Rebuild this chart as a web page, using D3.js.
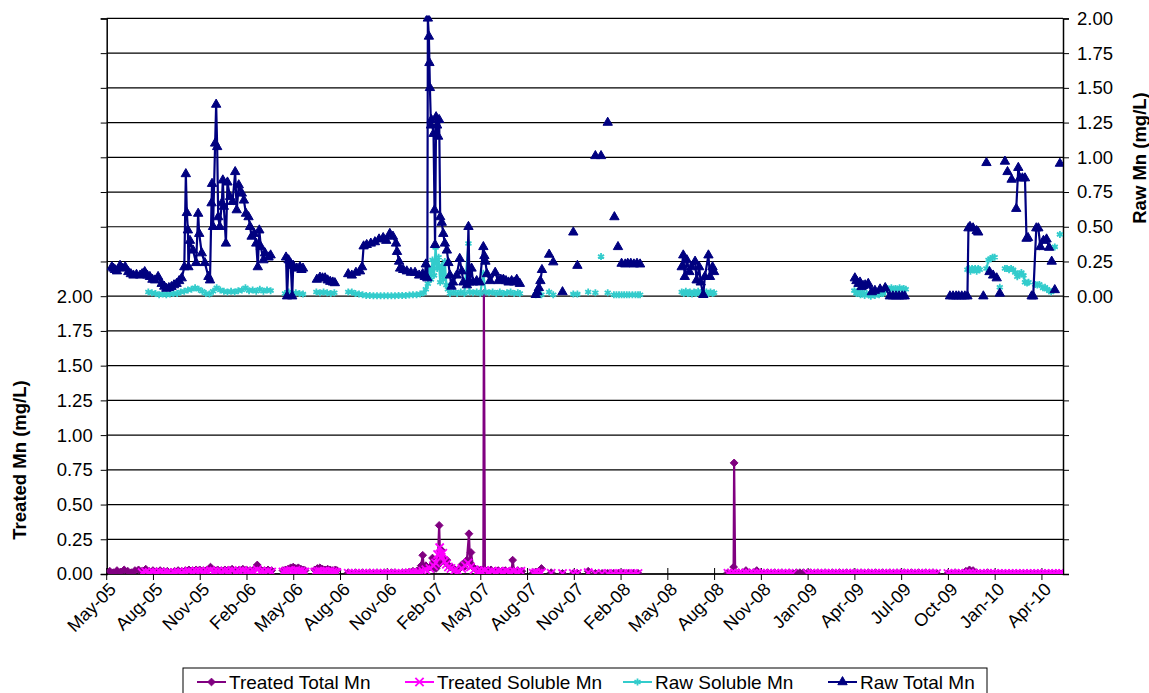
<!DOCTYPE html>
<html lang="en">
<head>
<meta charset="utf-8">
<title>Treated and Raw Mn</title>
<style>
  body { margin: 0; background: #fff; }
  text { font-family: Arial, "Liberation Sans", sans-serif; fill: #000; }
</style>
</head>
<body>
<div id="chart"></div>
<script src="https://cdn.jsdelivr.net/npm/d3@7/dist/d3.min.js"></script>
<script>

// ---- data (mg/L), null = gap in the record ----
var tickLabels = ["May-05", "Aug-05", "Nov-05", "Feb-06", "May-06", "Aug-06", "Nov-06", "Feb-07", "May-07", "Aug-07",
    "Nov-07", "Feb-08", "May-08", "Aug-08", "Nov-08", "Jan-09", "Apr-09", "Jul-09", "Oct-09", "Jan-10", "Apr-10"];
var firstTick = "2005-05-07", tickStepDays = 91, lastDay = "2010-06-11";

var treatedTotal = [
    ["2005-05-13",.02],["2005-05-20",.01],["2005-05-27",.025],["2005-06-03",.015],["2005-06-10",.03],["2005-06-17",.02],
    ["2005-06-24",.01],["2005-07-01",.025],["2005-07-08",.03],["2005-07-15",.02],["2005-07-22",.035],["2005-07-29",.02],
    ["2005-08-05",.025],["2005-08-12",.02],["2005-08-19",.025],["2005-08-26",.02],["2005-09-02",.02],["2005-09-09",.015],
    ["2005-09-16",.02],["2005-09-23",.025],["2005-09-30",.02],["2005-10-07",.025],["2005-10-14",.03],["2005-10-21",.025],
    ["2005-10-28",.03],["2005-11-04",.03],["2005-11-11",.025],["2005-11-18",.03],["2005-11-25",.05],["2005-12-02",.03],
    ["2005-12-09",.03],["2005-12-16",.025],["2005-12-23",.03],["2005-12-30",.03],["2006-01-06",.035],["2006-01-13",.025],
    ["2006-01-20",.03],["2006-01-27",.035],["2006-02-03",.03],["2006-02-10",.025],["2006-02-17",.03],["2006-02-24",.065],
    ["2006-03-03",.03],["2006-03-10",.025],["2006-03-17",.03],["2006-03-24",.025], null,
    ["2006-04-15",.025],["2006-04-20",.03],["2006-04-25",.035],["2006-04-30",.045],["2006-05-05",.05],["2006-05-10",.04],
    ["2006-05-15",.045],["2006-05-20",.035],["2006-05-25",.03],["2006-05-28",.025], null,
    ["2006-06-16",.03],["2006-06-21",.04],["2006-06-26",.045],["2006-07-01",.035],["2006-07-06",.03],["2006-07-11",.035],
    ["2006-07-16",.03],["2006-07-21",.025],["2006-07-26",.03],["2006-07-29",.025], null,
    ["2006-08-20",.01],["2006-08-27",.005],["2006-09-03",.01],["2006-09-10",.005],["2006-09-17",.01],["2006-09-24",.005],
    ["2006-10-01",.01],["2006-10-08",.005],["2006-10-15",.01],["2006-10-22",.005],["2006-10-29",.01],["2006-11-05",.005],
    ["2006-11-12",.01],["2006-11-19",.01],["2006-11-26",.005],["2006-12-03",.01],["2006-12-10",.01],["2006-12-17",.015],
    ["2006-12-24",.02],["2006-12-31",.02],["2007-01-05",.03],["2007-01-09",.06],["2007-01-12",.135],["2007-01-14",.05],
    ["2007-01-18",.06],["2007-01-22",.04],["2007-01-26",.05],["2007-01-31",.115],["2007-02-03",.05],["2007-02-07",.04],
    ["2007-02-10",.06],["2007-02-13",.35],["2007-02-15",.08],["2007-02-18",.17],["2007-02-21",.12],["2007-02-24",.09],
    ["2007-02-28",.10],["2007-03-04",.06],["2007-03-08",.05],["2007-03-12",.04],["2007-03-16",.03],["2007-03-20",.025],
    ["2007-03-25",.04],["2007-03-30",.07],["2007-04-03",.05],["2007-04-08",.10],["2007-04-12",.29],["2007-04-14",.08],
    ["2007-04-16",.155],["2007-04-20",.05],["2007-04-25",.035],["2007-04-30",.03],["2007-05-05",.03],["2007-05-10",.03],
    ["2007-05-11",2.02],["2007-05-13",.03],["2007-05-18",.025],["2007-05-25",.03],["2007-06-01",.02],["2007-06-08",.025],
    ["2007-06-15",.02],["2007-06-22",.025],["2007-06-29",.02],["2007-07-04",.02],["2007-07-06",.10],["2007-07-09",.02],
    ["2007-07-16",.025],["2007-07-24",.02], null,
    ["2007-08-15",.01],["2007-08-20",.015],["2007-08-25",.01],["2007-08-31",.04], null, ["2007-09-19",.01], null,
    ["2007-10-11",.005], null, ["2007-11-01",.005], null, ["2007-11-09",.005], null, ["2007-11-30",.02], null,
    ["2007-12-14",.005], null, ["2007-12-27",.005], null,
    ["2008-01-07",.005],["2008-01-18",.005],["2008-01-28",.005],["2008-02-06",.005],["2008-02-16",.005],["2008-02-26",.005],
    ["2008-03-06",.005], null,
    ["2008-08-28",.01],["2008-09-04",.01],["2008-09-08",.05],["2008-09-09",.80],["2008-09-11",.01],["2008-09-18",.01],
    ["2008-09-25",.01],["2008-10-02",.025],["2008-10-09",.01],["2008-10-16",.01],["2008-10-23",.025],["2008-10-30",.01],
    ["2008-11-06",.005],["2008-11-13",.01],["2008-11-20",.005],["2008-11-27",.01],["2008-12-04",.005],["2008-12-11",.01],
    ["2008-12-18",.005],["2008-12-25",.01],["2009-01-01",.005],["2009-01-08",.01],["2009-01-15",.01],["2009-01-22",.01],
    ["2009-01-29",.005],["2009-02-05",.01],["2009-02-12",.005],["2009-02-19",.01],["2009-02-26",.005],["2009-03-05",.01],
    ["2009-03-12",.005],["2009-03-19",.01],["2009-03-26",.005],["2009-04-02",.01],["2009-04-09",.005],["2009-04-16",.01],
    ["2009-04-23",.005],["2009-04-30",.01],["2009-05-07",.005],["2009-05-14",.01],["2009-05-21",.005],["2009-05-28",.01],
    ["2009-06-04",.005],["2009-06-11",.01],["2009-06-18",.005],["2009-06-25",.01],["2009-07-02",.005],["2009-07-09",.01],
    ["2009-07-16",.005],["2009-07-23",.01],["2009-07-30",.005],["2009-08-06",.01],["2009-08-13",.005],["2009-08-20",.01],
    ["2009-08-27",.005],["2009-09-03",.01],["2009-09-10",.005],["2009-09-17",.01],["2009-09-24",.005],["2009-10-01",.01],
    ["2009-10-08",.005], null,
    ["2009-10-30",.005],["2009-11-06",.005],["2009-11-13",.01],["2009-11-20",.005],["2009-11-27",.005],["2009-12-04",.02],
    ["2009-12-11",.03],["2009-12-18",.025],["2009-12-25",.01],["2010-01-01",.005],["2010-01-08",.005],["2010-01-15",.01],
    ["2010-01-22",.005],["2010-01-29",.005],["2010-02-05",.005],["2010-02-12",.005],["2010-02-19",.005],["2010-02-26",.005],
    ["2010-03-05",.005],["2010-03-12",.005],["2010-03-19",.005],["2010-03-26",.005],["2010-04-02",.005],["2010-04-09",.005],
    ["2010-04-16",.005],["2010-04-23",.005],["2010-04-30",.005],["2010-05-07",.005],["2010-05-14",.005],["2010-05-21",.005],
    ["2010-05-28",.005],["2010-06-04",.005],["2010-06-10",.005]
];

var treatedSoluble = [
    ["2005-07-15",.01],["2005-07-22",.015],["2005-07-29",.01],["2005-08-05",.015],["2005-08-12",.01],["2005-08-19",.015],
    ["2005-08-26",.01],["2005-09-02",.01],["2005-09-09",.005],["2005-09-16",.01],["2005-09-23",.015],["2005-09-30",.01],
    ["2005-10-07",.015],["2005-10-14",.02],["2005-10-21",.015],["2005-10-28",.02],["2005-11-04",.02],["2005-11-11",.015],
    ["2005-11-18",.02],["2005-11-25",.025],["2005-12-02",.02],["2005-12-09",.02],["2005-12-16",.015],["2005-12-23",.02],
    ["2005-12-30",.02],["2006-01-06",.025],["2006-01-13",.015],["2006-01-20",.02],["2006-01-27",.025],["2006-02-03",.02],
    ["2006-02-10",.015],["2006-02-17",.02],["2006-02-24",.03],["2006-03-03",.02],["2006-03-10",.015],["2006-03-17",.02],
    ["2006-03-24",.015], null,
    ["2006-04-15",.015],["2006-04-20",.02],["2006-04-25",.02],["2006-04-30",.025],["2006-05-05",.02],["2006-05-10",.025],
    ["2006-05-15",.02],["2006-05-20",.02],["2006-05-25",.015],["2006-05-28",.015], null,
    ["2006-06-16",.015],["2006-06-21",.02],["2006-06-26",.02],["2006-07-01",.015],["2006-07-06",.02],["2006-07-11",.015],
    ["2006-07-16",.02],["2006-07-21",.015],["2006-07-26",.015],["2006-07-29",.01], null,
    ["2006-08-20",.005],["2006-08-27",.003],["2006-09-03",.005],["2006-09-10",.003],["2006-09-17",.005],["2006-09-24",.003],
    ["2006-10-01",.005],["2006-10-08",.003],["2006-10-15",.005],["2006-10-22",.003],["2006-10-29",.005],["2006-11-05",.003],
    ["2006-11-12",.005],["2006-11-19",.003],["2006-11-26",.005],["2006-12-03",.005],["2006-12-10",.005],["2006-12-17",.008],
    ["2006-12-24",.01],["2006-12-31",.01],["2007-01-05",.01],["2007-01-12",.02],["2007-01-18",.03],["2007-01-26",.04],
    ["2007-02-02",.06],["2007-02-06",.08],["2007-02-10",.14],["2007-02-14",.19],["2007-02-17",.12],["2007-02-20",.15],
    ["2007-02-23",.09],["2007-02-27",.07],["2007-03-03",.05],["2007-03-08",.04],["2007-03-15",.025],["2007-03-22",.02],
    ["2007-03-29",.04],["2007-04-05",.06],["2007-04-10",.08],["2007-04-15",.05],["2007-04-22",.03],["2007-04-29",.02],
    ["2007-05-06",.02],["2007-05-13",.025],["2007-05-20",.015],["2007-05-27",.02],["2007-06-03",.015],["2007-06-10",.02],
    ["2007-06-17",.015],["2007-06-24",.02],["2007-07-01",.015],["2007-07-08",.02],["2007-07-15",.015],["2007-07-22",.02], null,
    ["2007-08-15",.005],["2007-08-20",.01],["2007-08-25",.005],["2007-08-31",.01], null, ["2007-09-19",.005], null,
    ["2007-10-11",.003], null, ["2007-11-01",.003], null, ["2007-11-09",.003], null, ["2007-11-30",.01], null,
    ["2007-12-14",.003], null, ["2007-12-27",.003], null,
    ["2008-01-07",.003],["2008-01-18",.003],["2008-01-28",.003],["2008-02-06",.003],["2008-02-16",.003],["2008-02-26",.003],
    ["2008-03-06",.003], null,
    ["2008-08-28",.005],["2008-09-04",.005],["2008-09-11",.005],["2008-09-18",.005],["2008-09-25",.005],["2008-10-02",.008],
    ["2008-10-09",.005],["2008-10-16",.005],["2008-10-23",.008],["2008-10-30",.005],["2008-11-06",.003],["2008-11-13",.005],
    ["2008-11-20",.003],["2008-11-27",.005],["2008-12-04",.003],["2008-12-11",.005],["2008-12-18",.003],["2008-12-25",.005],
    ["2009-01-01",.003], null,
    ["2009-01-29",.003],["2009-02-05",.005],["2009-02-12",.003],["2009-02-19",.005],["2009-02-26",.003],["2009-03-05",.005],
    ["2009-03-12",.003],["2009-03-19",.005],["2009-03-26",.003],["2009-04-02",.005],["2009-04-09",.003],["2009-04-16",.005],
    ["2009-04-23",.003],["2009-04-30",.005],["2009-05-07",.003],["2009-05-14",.005],["2009-05-21",.003],["2009-05-28",.005],
    ["2009-06-04",.003],["2009-06-11",.005],["2009-06-18",.003],["2009-06-25",.005],["2009-07-02",.003],["2009-07-09",.005],
    ["2009-07-16",.003],["2009-07-23",.005],["2009-07-30",.003],["2009-08-06",.005],["2009-08-13",.003],["2009-08-20",.005],
    ["2009-08-27",.003],["2009-09-03",.005],["2009-09-10",.003],["2009-09-17",.005],["2009-09-24",.003],["2009-10-01",.005],
    ["2009-10-08",.003], null,
    ["2009-10-30",.003],["2009-11-06",.003],["2009-11-13",.005],["2009-11-20",.003],["2009-11-27",.003],["2009-12-04",.005],
    ["2009-12-11",.008],["2009-12-18",.005],["2009-12-25",.003],["2010-01-01",.003],["2010-01-08",.003],["2010-01-15",.005],
    ["2010-01-22",.003],["2010-01-29",.003],["2010-02-05",.003],["2010-02-12",.003],["2010-02-19",.003],["2010-02-26",.003],
    ["2010-03-05",.003],["2010-03-12",.003],["2010-03-19",.003],["2010-03-26",.003],["2010-04-02",.003],["2010-04-09",.003],
    ["2010-04-16",.003],["2010-04-23",.003],["2010-04-30",.003],["2010-05-07",.003],["2010-05-14",.003],["2010-05-21",.003],
    ["2010-05-28",.003],["2010-06-04",.003],["2010-06-10",.003]
];

var rawSoluble = [
    ["2005-07-27",.03],["2005-08-03",.025],["2005-08-10",.02],["2005-08-17",.01],["2005-08-24",.015],["2005-08-31",.01],
    ["2005-09-07",.015],["2005-09-14",.02],["2005-09-21",.02],["2005-09-28",.03],["2005-10-05",.035],["2005-10-12",.045],
    ["2005-10-19",.05],["2005-10-26",.06],["2005-11-02",.05],["2005-11-09",.035],["2005-11-16",.02],["2005-11-23",.015],
    ["2005-11-30",.035],["2005-12-07",.06],["2005-12-14",.045],["2005-12-21",.035],["2005-12-28",.03],["2006-01-04",.035],
    ["2006-01-11",.03],["2006-01-18",.04],["2006-01-25",.045],["2006-02-01",.06],["2006-02-08",.04],["2006-02-15",.045],
    ["2006-02-22",.035],["2006-03-01",.05],["2006-03-08",.035],["2006-03-15",.045],["2006-03-22",.04], null,
    ["2006-04-19",.02],["2006-04-26",.03],["2006-05-03",.02],["2006-05-10",.025],["2006-05-17",.02],["2006-05-24",.015], null,
    ["2006-06-19",.03],["2006-06-26",.025],["2006-07-03",.03],["2006-07-10",.025],["2006-07-17",.02],["2006-07-24",.025], null,
    ["2006-08-20",.03],["2006-08-27",.03],["2006-09-03",.02],["2006-09-10",.015],["2006-09-17",.01],["2006-09-24",.005],
    ["2006-10-01",.005],["2006-10-08",.003],["2006-10-15",.003],["2006-10-22",.003],["2006-10-29",.003],["2006-11-05",.003],
    ["2006-11-12",.003],["2006-11-19",.003],["2006-11-26",.005],["2006-12-03",.005],["2006-12-10",.005],["2006-12-17",.008],
    ["2006-12-24",.01],["2006-12-31",.01],["2007-01-07",.015],["2007-01-14",.025],["2007-01-18",.05],["2007-01-22",.09],
    ["2007-01-25",.20],["2007-01-28",.12],["2007-01-31",.26],["2007-02-03",.15],["2007-02-06",.35],["2007-02-09",.20],
    ["2007-02-12",.28],["2007-02-15",.10],["2007-02-18",.22],["2007-02-21",.12],["2007-02-24",.25],["2007-02-27",.08],
    ["2007-03-02",.05],["2007-03-06",.02],["2007-03-13",.03],["2007-03-20",.02],["2007-03-27",.03],["2007-04-03",.02],
    ["2007-04-11",.38],["2007-04-13",.03],["2007-04-20",.025],["2007-04-27",.03],["2007-05-04",.02],["2007-05-10",.165],
    ["2007-05-14",.03],["2007-05-21",.025],["2007-05-28",.03],["2007-06-04",.02],["2007-06-11",.03],["2007-06-18",.02],
    ["2007-06-25",.025],["2007-07-02",.03],["2007-07-09",.02],["2007-07-16",.025],["2007-07-20",.02], null,
    ["2007-08-20",.01],["2007-08-25",.02],["2007-08-31",.01], null, ["2007-09-15",.03], null, ["2007-09-23",.01], null,
    ["2007-11-01",.015], null, ["2007-11-09",.015], null, ["2007-11-30",.03], null, ["2007-12-14",.025], null,
    ["2007-12-25",.285], null, ["2008-01-07",.025], null,
    ["2008-01-19",.01],["2008-01-24",.01],["2008-01-29",.01],["2008-02-03",.01],["2008-02-08",.01],["2008-02-13",.01],
    ["2008-02-18",.01],["2008-02-24",.01],["2008-03-01",.01],["2008-03-06",.01],["2008-03-10",.01], null,
    ["2008-05-30",.03],["2008-06-03",.02],["2008-06-07",.035],["2008-06-11",.02],["2008-06-15",.03],["2008-06-19",.015],
    ["2008-06-23",.03],["2008-06-27",.02],["2008-07-01",.035],["2008-07-05",.02],["2008-07-09",.03],["2008-07-13",.015],
    ["2008-07-17",.03],["2008-07-21",.02],["2008-07-25",.03],["2008-07-29",.02],["2008-08-01",.025], null,
    ["2009-05-01",.04],["2009-05-05",.02],["2009-05-09",.035],["2009-05-13",.01],["2009-05-17",.03],["2009-05-21",.005],
    ["2009-05-25",.02],["2009-05-29",.01],["2009-06-02",0],["2009-06-06",.015],["2009-06-10",.005],["2009-06-14",.02],
    ["2009-06-18",.01],["2009-06-22",.03],["2009-06-26",.02],["2009-06-30",.04],["2009-07-04",.055],["2009-07-08",.05],
    ["2009-07-12",.06],["2009-07-16",.05],["2009-07-20",.055],["2009-07-24",.05],["2009-07-28",.06],["2009-08-01",.05],
    ["2009-08-05",.055],["2009-08-09",.05], null,
    ["2009-12-07",.19],["2009-12-10",.20],["2009-12-13",.18],["2009-12-16",.20],["2009-12-19",.19],["2009-12-22",.20],
    ["2009-12-25",.18],["2009-12-28",.20],["2009-12-31",.19], null,
    ["2010-01-13",.20],["2010-01-17",.26],["2010-01-21",.27],["2010-01-25",.28],["2010-01-29",.28], null,
    ["2010-02-08",.065], null,
    ["2010-02-18",.20],["2010-02-22",.20],["2010-02-26",.19],["2010-03-02",.20],["2010-03-06",.19],["2010-03-10",.17],
    ["2010-03-14",.14],["2010-03-18",.16],["2010-03-22",.17],["2010-03-26",.15],["2010-03-29",.10],["2010-04-02",.095],
    ["2010-04-05",.10], null,
    ["2010-04-18",.085],["2010-04-22",.08],["2010-04-26",.085],["2010-05-03",.06],["2010-05-07",.065],["2010-05-11",.05],
    ["2010-05-15",.04],["2010-05-19",.03], null,
    ["2010-05-26",.355], null, ["2010-06-05",.445]
];

var rawTotal = [
    ["2005-05-17",.21],["2005-05-20",.20],["2005-05-23",.19],["2005-05-27",.18],["2005-06-02",.22],["2005-06-07",.20],
    ["2005-06-12",.21],["2005-06-18",.175],["2005-06-23",.16],["2005-06-28",.15],["2005-07-04",.155],["2005-07-11",.15],
    ["2005-07-15",.16],["2005-07-20",.175],["2005-07-25",.15],["2005-07-30",.14],["2005-08-04",.12],["2005-08-09",.115],
    ["2005-08-15",.14],["2005-08-22",.09],["2005-08-27",.07],["2005-08-31",.055],["2005-09-05",.06],["2005-09-10",.067],
    ["2005-09-15",.08],["2005-09-20",.09],["2005-09-25",.11],["2005-09-30",.13],["2005-10-05",.21],["2005-10-08",.88],
    ["2005-10-10",.60],["2005-10-12",.475],["2005-10-13",.21],["2005-10-16",.40],["2005-10-22",.33],["2005-10-28",.24],
    ["2005-11-01",.595],["2005-11-03",.45],["2005-11-08",.31],["2005-11-14",.24],["2005-11-21",.14],["2005-11-24",.115],
    ["2005-11-27",.67],["2005-11-28",.81],["2005-11-30",.50],["2005-12-04",1.10],["2005-12-06",1.38],["2005-12-08",1.075],
    ["2005-12-10",.57],["2005-12-13",.50],["2005-12-17",.67],["2005-12-19",.835],["2005-12-21",.645],["2005-12-25",.38],
    ["2005-12-28",.82],["2006-01-02",.715],["2006-01-07",.68],["2006-01-12",.895],["2006-01-15",.62],["2006-01-19",.80],
    ["2006-01-25",.74],["2006-01-29",.69],["2006-02-02",.595],["2006-02-07",.57],["2006-02-10",.50],["2006-02-13",.43],
    ["2006-02-18",.45],["2006-02-22",.38],["2006-02-25",.21],["2006-02-28",.475],["2006-03-03",.355],["2006-03-08",.26],
    ["2006-03-11",.31],["2006-03-18",.28],["2006-03-22",.295], null,
    ["2006-04-21",.28],["2006-04-23",0],["2006-04-26",.26],["2006-04-30",.235],["2006-05-03",0],["2006-05-05",.22],
    ["2006-05-12",.20],["2006-05-18",.21],["2006-05-21",.19],["2006-05-24",.20], null,
    ["2006-06-20",.12],["2006-06-26",.135],["2006-07-01",.13],["2006-07-06",.13],["2006-07-11",.115],["2006-07-16",.105],
    ["2006-07-21",.10],["2006-07-25",.095], null,
    ["2006-08-20",.16],["2006-08-27",.15],["2006-09-04",.17],["2006-09-12",.18],["2006-09-16",.21],["2006-09-19",.36],
    ["2006-09-25",.37],["2006-10-03",.38],["2006-10-11",.39],["2006-10-19",.41],["2006-10-27",.42],["2006-11-02",.40],
    ["2006-11-09",.45],["2006-11-15",.43],["2006-11-21",.38],["2006-11-23",.32],["2006-11-27",.25],["2006-11-29",.20],
    ["2006-12-05",.19],["2006-12-12",.18],["2006-12-20",.17],["2006-12-28",.17],["2007-01-05",.15],["2007-01-12",.16],
    ["2007-01-16",.14],["2007-01-18",.23],["2007-01-21",.13],["2007-01-22",2.0],["2007-01-24",1.87],["2007-01-25",1.68],
    ["2007-01-26",1.50],["2007-01-28",1.23],["2007-01-29",1.27],["2007-02-02",1.17],["2007-02-04",.62],["2007-02-05",.37],
    ["2007-02-07",1.29],["2007-02-09",1.23],["2007-02-11",1.15],["2007-02-13",1.27],["2007-02-15",.57],["2007-02-18",.53],
    ["2007-02-21",.45],["2007-02-24",.38],["2007-02-28",.33],["2007-03-03",.24],["2007-03-06",.15],["2007-03-09",.07],
    ["2007-03-12",.10],["2007-03-19",.15],["2007-03-25",.27],["2007-03-29",.18],["2007-04-01",.10],["2007-04-08",.08],
    ["2007-04-11",.50],["2007-04-13",.10],["2007-04-17",.20],["2007-04-20",.10],["2007-04-27",.11],["2007-05-03",.10],
    ["2007-05-10",.355],["2007-05-12",.29],["2007-05-14",.25],["2007-05-17",.16],["2007-05-23",.11],["2007-06-02",.17],
    ["2007-06-08",.11],["2007-06-13",.12],["2007-06-18",.12],["2007-06-23",.11],["2007-06-28",.10],["2007-07-04",.11],
    ["2007-07-09",.10],["2007-07-14",.12],["2007-07-20",.09], null,
    ["2007-08-20",.01],["2007-08-23",.03],["2007-08-26",.06],["2007-08-29",.11],["2007-09-01",.19], null,
    ["2007-09-15",.30], null, ["2007-09-23",.245], null, ["2007-10-11",.03], null, ["2007-11-01",.46], null,
    ["2007-11-09",.22], null, ["2007-12-14",1.01], null, ["2007-12-25",1.01], null, ["2008-01-07",1.25], null,
    ["2008-01-20",.57], null, ["2008-01-27",.355], null,
    ["2008-02-03",.235],["2008-02-10",.23],["2008-02-15",.235],["2008-02-21",.235],["2008-02-27",.23],["2008-03-04",.235],
    ["2008-03-10",.23], null,
    ["2008-05-30",.21],["2008-06-02",.295],["2008-06-05",.14],["2008-06-09",.26],["2008-06-14",.175],["2008-06-18",.21],
    ["2008-06-25",.25],["2008-06-28",.115],["2008-07-03",.21],["2008-07-06",.10],["2008-07-11",.01],["2008-07-14",.14],
    ["2008-07-21",.295],["2008-07-24",.14],["2008-07-29",.21],["2008-08-01",.175], null,
    ["2009-05-02",.13],["2009-05-05",.11],["2009-05-09",.09],["2009-05-12",.10],["2009-05-15",.067],["2009-05-18",.075],
    ["2009-05-22",.08],["2009-05-28",.09],["2009-06-04",.03],["2009-06-10",.04],["2009-06-20",.05],["2009-06-30",.06],
    ["2009-07-09",0],["2009-07-15",0],["2009-07-21",0],["2009-07-27",0],["2009-08-02",0],["2009-08-07",0], null,
    ["2009-11-03",0],["2009-11-09",0],["2009-11-15",0],["2009-11-20",0],["2009-11-26",0],["2009-12-02",0],["2009-12-07",0],
    ["2009-12-09",.49],["2009-12-12",.50],["2009-12-18",.49],["2009-12-25",.47],["2009-12-28",.46], null,
    ["2010-01-07",0], null, ["2010-01-13",.96], null,
    ["2010-01-19",.175],["2010-01-26",.15],["2010-02-02",.13], null, ["2010-02-08",.02], null,
    ["2010-02-18",.97], null, ["2010-02-23",.895], null, ["2010-03-03",.84], null,
    ["2010-03-12",.63],["2010-03-16",.925],["2010-03-19",.85],["2010-03-24",.85],["2010-03-29",.85],["2010-04-01",.415],
    ["2010-04-04",.42], null,
    ["2010-04-11",0],["2010-04-14",0],["2010-04-20",.49],["2010-04-24",.49],["2010-04-28",.355],["2010-05-04",.40],
    ["2010-05-10",.41],["2010-05-15",.35], null,
    ["2010-05-20",.25], null, ["2010-05-26",.045], null, ["2010-06-05",.955]
];

// ---- layout ----
var width = 1149, height = 693;
var plot = {left: 106.7, right: 1063, top: 18.4, bottom: 574};
var parseDate = d3.timeParse("%Y-%m-%d");

var svg = d3.select("#chart").append("svg")
    .attr("width", width)
    .attr("height", height);

var x = d3.scaleTime()
    .domain([parseDate(firstTick), parseDate(lastDay)])
    .range([plot.left, plot.right]);

// treated on the left (lower half labelled), raw on the right (upper half labelled)
var yTreated = d3.scaleLinear().domain([0, 4]).range([plot.bottom, plot.top]);
var yRaw = d3.scaleLinear().domain([-2, 2]).range([plot.bottom, plot.top]);

var fmt = d3.format(".2f");
var gridVals = d3.range(0, 4.001, 0.25);

// gridlines
svg.append("g").selectAll("line")
    .data(gridVals)
    .enter().append("line")
    .attr("x1", plot.left).attr("x2", plot.right)
    .attr("y1", function (d) { return yTreated(d); })
    .attr("y2", function (d) { return yTreated(d); })
    .style("stroke", "#000")
    .style("stroke-width", 1.2);

// left axis
var leftAxis = svg.append("g")
    .attr("transform", "translate(" + plot.left + ",0)")
    .call(d3.axisLeft(yTreated).tickValues(gridVals).tickSize(6).tickPadding(8)
        .tickFormat(function (d) { return d <= 2 ? fmt(d) : ""; }));

// right axis
var rightAxis = svg.append("g")
    .attr("transform", "translate(" + plot.right + ",0)")
    .call(d3.axisRight(yRaw).tickValues(d3.range(-2, 2.001, 0.25)).tickSize(6).tickPadding(8)
        .tickFormat(function (d) { return d >= -0.001 ? fmt(Math.abs(d) < 1e-9 ? 0 : d) : ""; }));

[leftAxis, rightAxis].forEach(function (g) {
    g.selectAll("path").style("stroke", "#000").style("stroke-width", 1.5);
    g.selectAll("line").style("stroke", "#000");
    g.selectAll("text").style("font-size", "18.5px").style("fill", "#000");
});

// bottom axis: date ticks every 91 days, label list from the sheet
var tickDates = tickLabels.map(function (lab, i) {
    return d3.timeDay.offset(parseDate(firstTick), i * tickStepDays);
});

svg.append("line")
    .attr("x1", plot.left).attr("x2", plot.right)
    .attr("y1", plot.bottom).attr("y2", plot.bottom)
    .style("stroke", "#000").style("stroke-width", 1.5);

var xTicks = svg.append("g").selectAll("g")
    .data(tickDates)
    .enter().append("g")
    .attr("transform", function (d) { return "translate(" + x(d) + "," + plot.bottom + ")"; });

xTicks.append("line")
    .attr("y1", -6).attr("y2", 6)
    .style("stroke", "#000");

xTicks.append("text")
    .attr("transform", "translate(6,12) rotate(-45)")
    .attr("text-anchor", "end")
    .attr("dy", "0.35em")
    .style("font-size", "18px")
    .text(function (d, i) { return tickLabels[i]; });

// axis titles
svg.append("text")
    .attr("transform", "translate(26," + 460 + ") rotate(-90)")
    .attr("text-anchor", "middle")
    .style("font-size", "18.5px").style("font-weight", "bold")
    .text("Treated Mn (mg/L)");

svg.append("text")
    .attr("transform", "translate(1146," + 158 + ") rotate(-90)")
    .attr("text-anchor", "middle")
    .style("font-size", "18.5px").style("font-weight", "bold")
    .text("Raw Mn (mg/L)");

// ---- series ----
var series = [
    {name: "Treated Total Mn", data: treatedTotal, y: yTreated, color: "#800080", symbol: d3.symbolDiamond2, size: 38, filled: true},
    {name: "Treated Soluble Mn", data: treatedSoluble, y: yTreated, color: "#FF00FF", symbol: d3.symbolX, size: 46, filled: false},
    {name: "Raw Soluble Mn", data: rawSoluble, y: yRaw, color: "#33CCCC", symbol: d3.symbolAsterisk, size: 34, filled: false},
    {name: "Raw Total Mn", data: rawTotal, y: yRaw, color: "#000080", symbol: d3.symbolTriangle, size: 38, filled: true}
];

svg.append("clipPath").attr("id", "plot-clip")
    .append("rect")
    .attr("x", plot.left).attr("y", plot.top - 3)
    .attr("width", plot.right - plot.left).attr("height", plot.bottom - plot.top + 3);

var body = svg.append("g").attr("clip-path", "url(#plot-clip)");

function styleMarker(sel, s) {
    sel.attr("d", d3.symbol().type(s.symbol).size(s.size)())
        .style("fill", s.filled ? s.color : "none")
        .style("stroke", s.color)
        .style("stroke-width", s.filled ? 1 : 1.8);
}

series.forEach(function (s) {
    var line = d3.line()
        .defined(function (d) { return d !== null; })
        .x(function (d) { return x(parseDate(d[0])); })
        .y(function (d) { return s.y(d[1]); });

    body.append("path")
        .datum(s.data)
        .attr("d", line)
        .style("fill", "none")
        .style("stroke", s.color)
        .style("stroke-width", 2.2);

    body.append("g").selectAll("path")
        .data(s.data.filter(function (d) { return d !== null; }))
        .enter().append("path")
        .attr("transform", function (d) { return "translate(" + x(parseDate(d[0])) + "," + s.y(d[1]) + ")"; })
        .call(styleMarker, s);
});

// ---- legend ----
var legend = svg.append("g").attr("transform", "translate(183,668)");
legend.append("rect")
    .attr("width", 804).attr("height", 32)
    .style("fill", "#fff").style("stroke", "#000").style("stroke-width", 1);

var legendX = [14, 222, 440, 645];
series.forEach(function (s, i) {
    var g = legend.append("g").attr("transform", "translate(" + legendX[i] + ",14)");
    g.append("line").attr("x1", 0).attr("x2", 29)
        .style("stroke", s.color).style("stroke-width", 2);
    g.append("path").attr("transform", "translate(14.5,0)").call(styleMarker, s);
    g.append("text").attr("x", 32).attr("dy", "0.35em")
        .style("font-size", "19px")
        .text(s.name);
});

</script>
</body>
</html>
